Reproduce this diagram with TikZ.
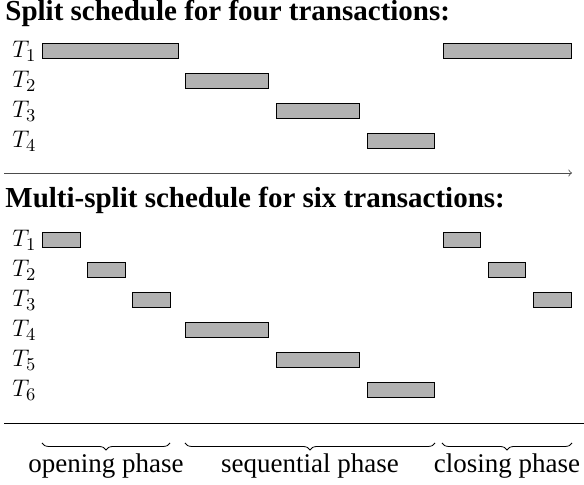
\documentclass[tikz,border=0pt]{standalone}
\usepackage{fontspec}
\setmainfont{Liberation Serif}
\usetikzlibrary{decorations.pathreplacing}

\begin{document}
\begin{tikzpicture}[
    x=0.5pt, y=0.5pt,
    , bar/.style = {draw=black,fill=black!30,line width=0.5pt}
    , head/.style = {anchor=base west,inner sep=0pt,font=\fontsize{14.5}{17}\selectfont\bfseries}
    , tlabel/.style = {anchor=base west,inner sep=0pt,font=\fontsize{13}{15}\selectfont}
    , phase/.style = {anchor=base,inner sep=0pt,font=\fontsize{13.5}{16}\selectfont}
    , phasebrace/.style = {decorate,decoration={brace,mirror,amplitude=3.5pt},thin}
]
\useasboundingbox (0,0) rectangle (584,485);
% split schedule
\node[head] (split) at (5,464) {Split schedule for four transactions:};
\foreach \i/\y in {1/433.5, 2/403.5, 3/373.5, 4/343.5}
    \node[tlabel] (s\i) at (12,\y-6) {$T_{\i}$};
\foreach \a/\b/\y in {42/178/433.5, 443/571/433.5, 185/268/403.5, 276/359/373.5, 367/434/343.5}
    \draw[bar] (\a,\y-7.5) rectangle (\b,\y+7.5);
\draw[->,draw=black!70] (4,312) -- (572,312);
% multi-split schedule
\node[head] (multi) at (5,277) {Multi-split schedule for six transactions:};
\foreach \i/\y in {1/244.5, 2/214.5, 3/184.5, 4/154.5, 5/124.5, 6/94.5}
    \node[tlabel] (m\i) at (12,\y-6) {$T_{\i}$};
\foreach \a/\b/\y in {42/80/244.5, 443/480/244.5, 87/125/214.5, 488/525/214.5,
    132/170/184.5, 533/571/184.5, 185/268/154.5, 276/359/124.5, 367/434/94.5}
    \draw[bar] (\a,\y-7.5) rectangle (\b,\y+7.5);
\draw[black] (4,62) -- (584,62);
% phases
\draw[phasebrace] (42,42) -- (170,42);
\draw[phasebrace] (185,42) -- (435,42);
\draw[phasebrace] (442,42) -- (572,42);
\node[phase] (open) at (106,12) {opening phase};
\node[phase] (seq) at (310,12) {sequential phase};
\node[phase] (close) at (507,12) {closing phase};
\end{tikzpicture}
\end{document}
